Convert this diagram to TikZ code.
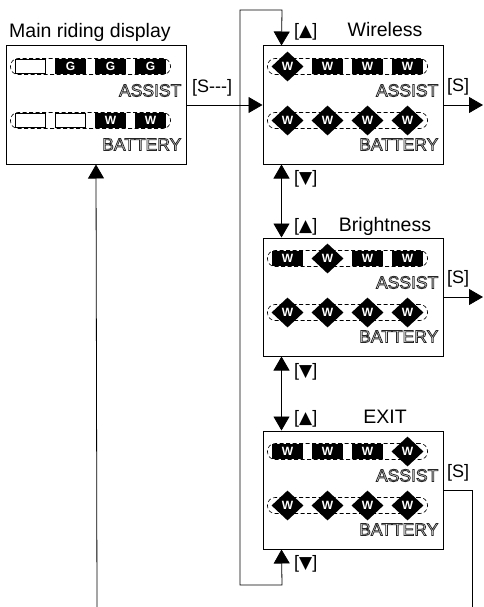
\documentclass[tikz,border=0pt]{standalone}
\usepackage{fontspec}
\setmainfont{Liberation Sans}
\newfontfamily\symfont{DejaVu Sans}
\usetikzlibrary{positioning,calc,arrows.meta,shapes.geometric}

% outlined lettering of the display
\newcommand{\hollow}[1]{\special{pdf:literal direct 1 Tr 0.8 w}#1\special{pdf:literal direct 0 Tr}}
\newcommand{\up}{{\symfont\fontsize{17}{17}\selectfont ▲}}
\newcommand{\dn}{{\symfont\fontsize{17}{17}\selectfont ▼}}

% one row of four segments: panel, offset from its top, four segment styles
\newcommand{\segrow}[6]{%
  \node[strip] (#1-strip#2) at ($(#1.north west)+(85,#2)$) {};
  \foreach \k [count=\i] in {#3,#4,#5,#6}
    \node (#1-s#2-\i) at ($(#1.north west)+(-15+40*\i,#2)$) [\k];
}

\tikzset{
  panel/.style={draw, line width=1pt, minimum width=180pt, minimum height=118pt, inner sep=0pt},
  strip/.style={draw, dash pattern=on 4pt off 2.5pt, line width=0.6pt, rounded corners=7.5pt,
    minimum width=160pt, minimum height=16pt, inner sep=0pt},
  segfont/.style={font=\fontsize{12}{12}\selectfont\bfseries, text=white},
  segoff/.style={draw, fill=white, line width=0.7pt, minimum width=30pt, minimum height=14pt,
    inner sep=0pt, node contents={}},
  segG/.style={fill=black, segfont, minimum width=31pt, minimum height=15pt, inner sep=0pt, node contents=G},
  segW/.style={fill=black, segfont, minimum width=31pt, minimum height=15pt, inner sep=0pt, node contents=W},
  segD/.style={diamond, fill=black, segfont, minimum width=32pt, minimum height=30pt, inner sep=0pt, node contents=W},
  lcd/.style={font=\fontsize{17.5}{17.5}\selectfont, text=black!85, anchor=base east, inner sep=0pt},
  title/.style={font=\fontsize{19.5}{20}\selectfont, anchor=base, inner sep=0pt},
  key/.style={font=\fontsize{18}{18}\selectfont, anchor=base west, inner sep=0pt},
  link/.style={line width=0.8pt, -{Triangle[length=14pt,width=16pt]}},
  dbl/.style={line width=0.8pt, {Triangle[length=14pt,width=16pt]}-{Triangle[length=14pt,width=16pt]}},
}

\begin{document}
\begin{tikzpicture}[x=1pt, y=-1pt]
  \useasboundingbox (0,0) rectangle (483,607);

  % panels
  \node[panel] (wless) at (353,105) {};
  \node[panel, left=76pt of wless] (main) {};
  \node[panel, below=73pt of wless] (bright) {};
  \node[panel, below=74pt of bright] (exit) {};

  \node[title, anchor=base west] (t-main) at (9,38) {Main riding display};
  \node[title] (t-wless) at (385,37) {Wireless};
  \node[title] (t-bright) at (385,231) {Brightness};
  \node[title] (t-exit) at (385,423) {EXIT};

  % segments
  \segrow{main}{21}{segoff}{segG}{segG}{segG}
  \segrow{main}{75}{segoff}{segoff}{segW}{segW}
  \segrow{wless}{21}{segD}{segW}{segW}{segW}
  \segrow{wless}{75}{segD}{segD}{segD}{segD}
  \segrow{bright}{21}{segW}{segD}{segW}{segW}
  \segrow{bright}{75}{segD}{segD}{segD}{segD}
  \segrow{exit}{21}{segW}{segW}{segW}{segD}
  \segrow{exit}{75}{segD}{segD}{segD}{segD}

  \foreach \p in {main,wless,bright,exit} {
    \node[lcd] (\p-assist) at ($(\p.north east)+(-5,51)$) {\hollow{ASSIST}};
    \node[lcd] (\p-battery) at ($(\p.north east)+(-5,105)$) {\hollow{BATTERY}};
  }

  % free ends and corners
  \coordinate (wout) at (483,105);
  \coordinate (bout) at (483,297);
  \coordinate (sdown) at (472,607);
  \coordinate (back) at (97,607);
  \coordinate (c1) at (282,585);
  \coordinate (c2) at (240,585);
  \coordinate (c3) at (240,10);
  \coordinate (c4) at (282,10);

  \draw[link] (main.east) -- (wless.west);
  \draw[link] (wless.east) -- (wout);
  \draw[link] (bright.east) -- (bout);
  \draw[line width=0.8pt] (exit.east) -| (sdown);
  \draw[link] (back) -- (main.south);

  \draw[dbl] ($(wless.south west)+(19,0)$) -- ($(bright.north west)+(19,0)$);
  \draw[dbl] ($(bright.south west)+(19,0)$) -- ($(exit.north west)+(19,0)$);
  \draw[dbl] ($(exit.south west)+(19,0)$) -- (c1) -- (c2) -- (c3) -- (c4)
    -- ($(wless.north west)+(19,0)$);

  % keys
  \node[key] (k-main) at (192,93) {[S{-}{-}{-}]};
  \node[key] (k-ws) at (447,92) {[S]};
  \node[key] (k-bs) at (447,283) {[S]};
  \node[key] (k-es) at (447,477) {[S]};
  \node[key] (k-wup) at (294,37) {[\up]};
  \node[key] (k-bup) at (294,231) {[\up]};
  \node[key] (k-eup) at (294,423) {[\up]};
  \node[key] (k-wdn) at (294,183) {[\dn]};
  \node[key] (k-bdn) at (294,376) {[\dn]};
  \node[key] (k-edn) at (294,568) {[\dn]};
\end{tikzpicture}
\end{document}
